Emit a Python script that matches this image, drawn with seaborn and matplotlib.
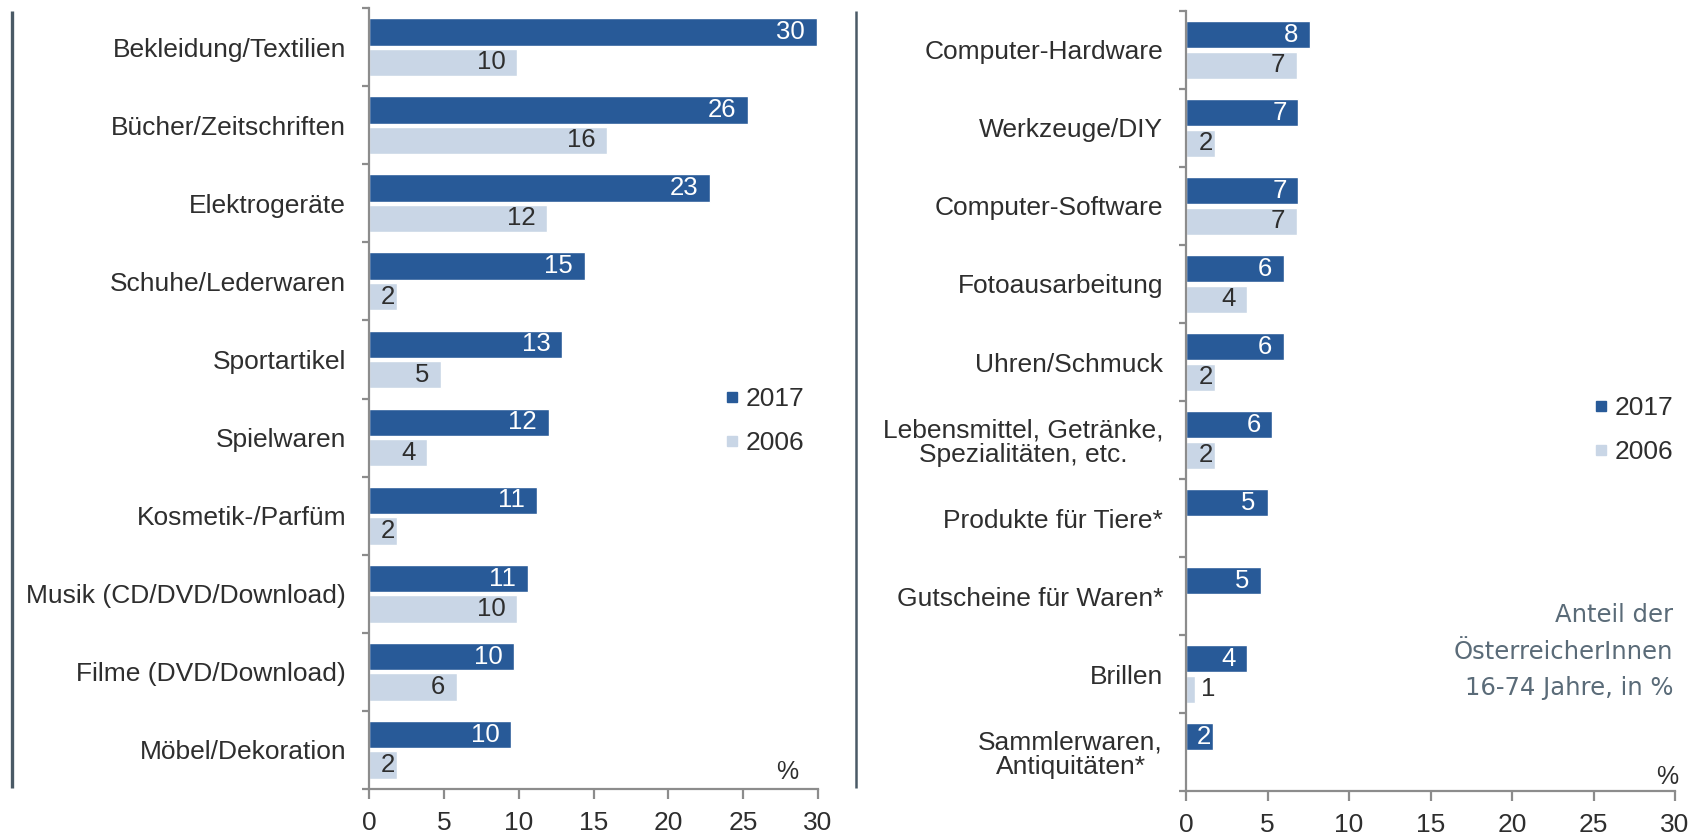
import numpy as np
import pandas as pd
import matplotlib
matplotlib.use("Agg")
import matplotlib.pyplot as plt
from matplotlib.lines import Line2D
from matplotlib import font_manager
import seaborn as sns

# ---------------- data ----------------
years = ["2017", "2006"]

cats_left = ["Bekleidung/Textilien", "Bücher/Zeitschriften", "Elektrogeräte",
             "Schuhe/Lederwaren", "Sportartikel", "Spielwaren", "Kosmetik-/Parfüm",
             "Musik (CD/DVD/Download)", "Filme (DVD/Download)", "Möbel/Dekoration"]
v2017_left = [29.9, 25.3, 22.8, 14.4, 12.9, 12.0, 11.2, 10.6, 9.7, 9.5]
v2006_left = [9.9, 15.9, 11.9, 1.9, 4.8, 3.9, 1.9, 9.9, 5.9, 1.9]
lab2017_left = ["30", "26", "23", "15", "13", "12", "11", "11", "10", "10"]
lab2006_left = ["10", "16", "12", "2", "5", "4", "2", "10", "6", "2"]

cats_right = ["Computer-Hardware", "Werkzeuge/DIY", "Computer-Software",
              "Fotoausarbeitung", "Uhren/Schmuck",
              "Lebensmittel, Getränke,\nSpezialitäten, etc.",
              "Produkte für Tiere*", "Gutscheine für Waren*", "Brillen",
              "Sammlerwaren,\nAntiquitäten*"]
v2017_right = [7.6, 6.9, 6.9, 6.0, 6.0, 5.3, 5.0, 4.6, 3.75, 1.65]
v2006_right = [6.8, 1.8, 6.8, 3.75, 1.8, 1.8, np.nan, np.nan, 0.55, np.nan]
lab2017_right = ["8", "7", "7", "6", "6", "6", "5", "5", "4", "2"]
lab2006_right = ["7", "2", "7", "4", "2", "2", None, None, "1", None]

x_ticks = [0, 5, 10, 15, 20, 25, 30]
unit_label = "%"
note_lines = ["Anteil der", "ÖsterreicherInnen", "16-74 Jahre, in %"]

# ---------------- style ----------------
DARK = "#285a98"
LIGHT = "#c9d6e6"
TXT = "#2e2e2e"
SPINE = "#8c8c8c"
SLATE = "#4a5a66"
NOTE = "#5a6b78"

sns.set_theme(style="white")
avail = {f.name for f in font_manager.fontManager.ttflist}
main_font = "Liberation Sans Narrow" if "Liberation Sans Narrow" in avail else "Liberation Sans"
plt.rcParams["font.family"] = [main_font, "DejaVu Sans"]

W, H = 1692, 835
fig = plt.figure(figsize=(W / 100, H / 100), dpi=100)
fig.patch.set_facecolor("white")

axL = fig.add_axes([369 / W, (H - 789) / H, (818 - 369) / W, (789 - 8) / H])
axR = fig.add_axes([1186 / W, (H - 791) / H, (1675 - 1186) / W, (791 - 11) / H])


def make_df(cats, v17, v06):
    rows = []
    for c, a, b in zip(cats, v17, v06):
        rows.append({"cat": c, "year": years[0], "val": a})
        rows.append({"cat": c, "year": years[1], "val": b})
    return pd.DataFrame(rows)


def draw(ax, cats, v17, v06, l17, l06):
    df = make_df(cats, v17, v06)
    sns.barplot(data=df, y="cat", x="val", hue="year", hue_order=years, order=cats,
                orient="h", palette=[DARK, LIGHT], width=0.78, gap=0.1,
                saturation=1, errorbar=None, legend=False, ax=ax)
    n = len(cats)
    ax.set_xlim(0, 30)
    ax.set_ylim(n - 0.5, -0.5)
    ax.set_xticks(x_ticks)
    ax.set_xticklabels([str(t) for t in x_ticks])
    ax.set_xlabel("")
    ax.set_ylabel("")
    for s in ["top", "right"]:
        ax.spines[s].set_visible(False)
    for s in ["left", "bottom"]:
        ax.spines[s].set_color(SPINE)
        ax.spines[s].set_linewidth(1.6)
    ax.set_yticks(np.arange(-0.5, n, 1), minor=True)
    ax.tick_params(axis="y", which="major", length=0, pad=16.5, labelsize=19, labelcolor=TXT)
    ax.tick_params(axis="y", which="minor", length=5, width=1.6, color=SPINE, direction="out", left=True)
    ax.tick_params(axis="x", which="major", length=7, width=1.6, color=SPINE, direction="out",
                   bottom=True, pad=8.5, labelsize=19, labelcolor=TXT)
    for lbl in ax.get_yticklabels():
        lbl.set_multialignment("center")
        lbl.set_linespacing(1.05)

    fig.canvas.draw()
    ppu = ax.get_window_extent().width / 30.0
    labels = {years[0]: l17, years[1]: l06}
    tcol = {years[0]: "white", years[1]: TXT}
    for cont, yr in zip(ax.containers, years):
        for p in cont.patches:
            w = p.get_width()
            if not np.isfinite(w) or w <= 0:
                continue
            yc = p.get_y() + p.get_height() / 2
            idx = int(round(yc))
            lab = labels[yr][idx]
            if lab is None:
                continue
            px = w * ppu
            if px < 20:
                ax.annotate(lab, xy=(w, yc), xytext=(4, 0), textcoords="offset points",
                            ha="left", va="center", fontsize=18.5, color=TXT)
            elif px < 45:
                ax.annotate(lab, xy=(w, yc), xytext=(-1.5, 0), textcoords="offset points",
                            ha="right", va="center", fontsize=18.5, color=tcol[yr])
            else:
                ax.annotate(lab, xy=(w, yc), xytext=(-8.5, 0), textcoords="offset points",
                            ha="right", va="center", fontsize=18.5, color=tcol[yr])


draw(axL, cats_left, v2017_left, v2006_left, lab2017_left, lab2006_left)
draw(axR, cats_right, v2017_right, v2006_right, lab2017_right, lab2006_right)

# legends
handles = [Line2D([], [], marker="s", ls="", color=DARK, markersize=6.5),
           Line2D([], [], marker="s", ls="", color=LIGHT, markersize=6.5)]
for xa, ya in [(714, 421), (1583, 430)]:
    leg = fig.legend(handles, years, loc="center left",
                     bbox_to_anchor=(xa / W, 1 - ya / H), bbox_transform=fig.transFigure,
                     frameon=False, borderpad=0, handlelength=0.4, handletextpad=0.3,
                     labelspacing=0.75, fontsize=19, labelcolor=TXT)

# unit labels
fig.text(787 / W, 1 - 772 / H, unit_label, ha="center", va="center", fontsize=18, color=TXT)
fig.text(1667 / W, 1 - 777 / H, unit_label, ha="center", va="center", fontsize=18, color=TXT)

# note text
for line, yy in zip(note_lines, [615, 652, 688]):
    fig.text(1673 / W, 1 - yy / H, line, ha="right", va="center", fontsize=17.5,
             color=NOTE, family=["DejaVu Sans"])

# decorative vertical lines
fig.add_artist(Line2D([12 / W, 12 / W], [1 - 11 / H, 1 - 788 / H], transform=fig.transFigure,
                      color=SLATE, lw=2.4, solid_capstyle="butt"))
fig.add_artist(Line2D([856 / W, 856 / W], [1 - 11 / H, 1 - 788 / H], transform=fig.transFigure,
                      color=SLATE, lw=1.8, solid_capstyle="butt"))

fig.savefig("out.png", dpi=100, facecolor="white")
